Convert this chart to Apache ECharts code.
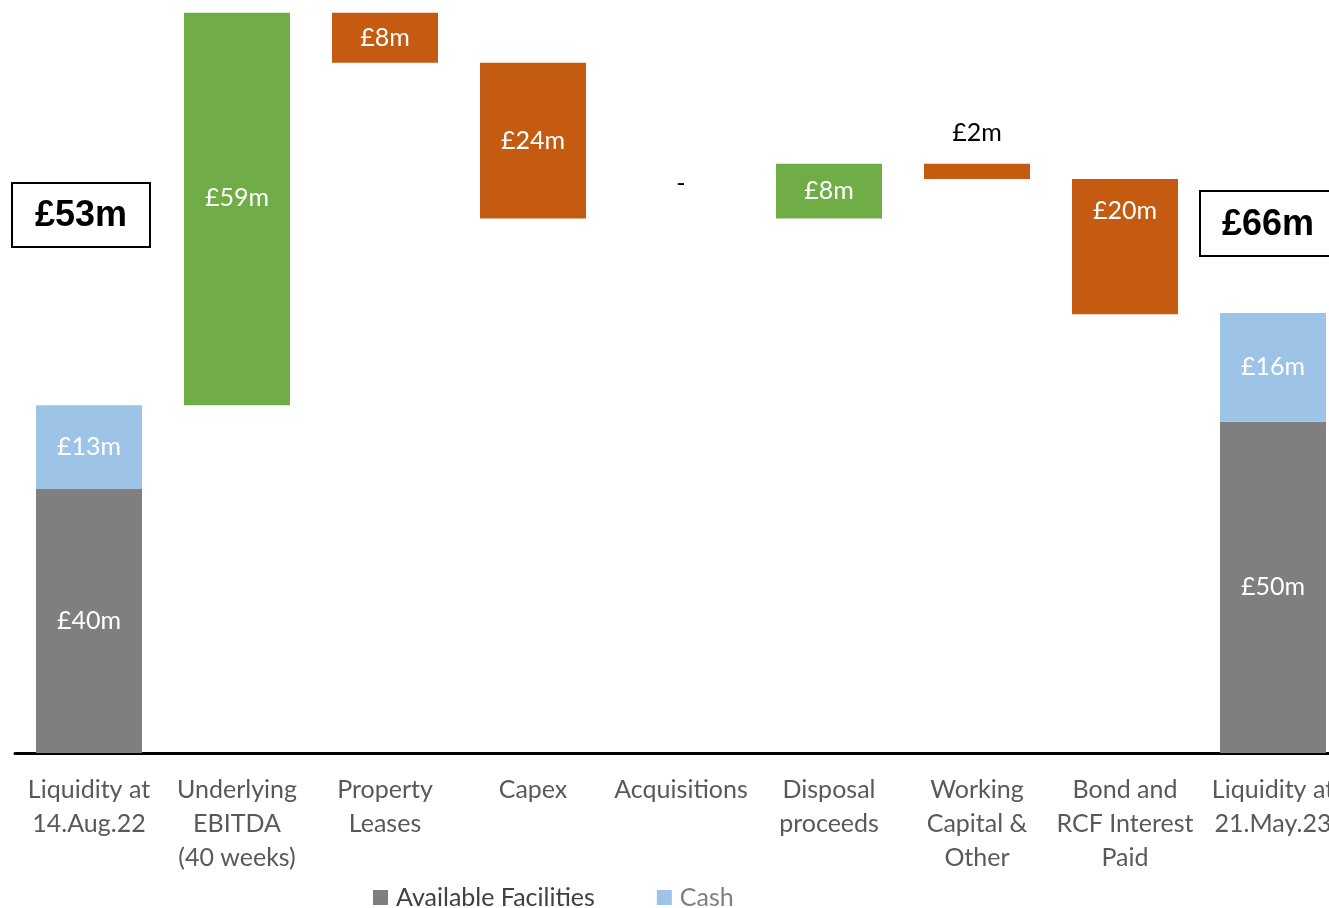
<!DOCTYPE html>
<html>
<head>
<meta charset="utf-8">
<script src="https://cdn.jsdelivr.net/npm/echarts@6/dist/echarts.min.js"></script>
<style>
  html, body { margin: 0; padding: 0; background: #fff; overflow: hidden; }
  #chart { width: 1347px; height: 908px; }
</style>
</head>
<body>
<div id="chart"></div>
<script>
// categories on the x axis
const categories = [
  'Liquidity at\n14.Aug.22',
  'Underlying\nEBITDA\n(40 weeks)',
  'Property\nLeases',
  'Capex',
  'Acquisitions',
  'Disposal\nproceeds',
  'Working\nCapital &\nOther',
  'Bond and\nRCF Interest\nPaid',
  'Liquidity at\n21.May.23'
]

// opening / closing liquidity (£m)
const facilities = [40, null, null, null, null, null, null, null, 50.2]
const cash = [12.7, null, null, null, null, null, null, null, 16.5]
const facilityLabels = ['£40m', '', '', '', '', '', '', '', '£50m']
const cashLabels = ['£13m', '', '', '', '', '', '', '', '£16m']

// movements in between (£m)
const changes = [null, 59.5, -7.6, -23.6, 0, 8.3, -2.3, -20.5, null]
const changeLabels = ['', '£59m', '£8m', '£24m', '-', '£8m', '£2m', '£20m', '']

// boxed totals
const openingTotal = '£53m'
const closingTotal = '£66m'

// work out the invisible base for the floating bars
const base = []
const ups = []
const downs = []
let running = 0
categories.forEach((c, i) => {
  if (changes[i] === null) {
    base.push(null)
    ups.push(null)
    downs.push(null)
    running = (facilities[i] || 0) + (cash[i] || 0)
    return
  }
  const v = changes[i]
  if (v > 0) {
    base.push(running)
    ups.push(v)
    downs.push(null)
    running += v
  } else {
    running += v
    base.push(running)
    ups.push(null)
    downs.push(-v)
  }
})

const FONT = 'Lato, "Open Sans", sans-serif'

const whiteLabel = {
  show: true,
  position: 'inside',
  color: '#fff',
  fontFamily: FONT,
  fontSize: 25
}

const chart = echarts.init(document.getElementById('chart'))

const option = {
  animation: false,
  grid: { left: 15, top: 12, right: 0, bottom: 155 },
  legend: {
    data: [
      { name: 'Available Facilities', textStyle: { color: '#404040' } },
      { name: 'Cash', textStyle: { color: '#7f7f7f' } }
    ],
    left: 373,
    top: 885,
    padding: 0,
    icon: 'rect',
    itemWidth: 15,
    itemHeight: 15,
    itemGap: 62,
    textStyle: { fontFamily: FONT, fontSize: 25, padding: [0, 0, 0, 3] }
  },
  xAxis: {
    type: 'category',
    data: categories,
    axisLine: { lineStyle: { color: '#000', width: 3 } },
    axisTick: { show: false },
    axisLabel: {
      interval: 0,
      margin: 20,
      color: '#595959',
      fontFamily: FONT,
      fontSize: 25,
      lineHeight: 34
    }
  },
  yAxis: {
    type: 'value',
    min: 0,
    max: 112.3,
    show: false,
    splitLine: { show: false }
  },
  series: [
    {
      name: 'base',
      type: 'bar',
      stack: 'total',
      barWidth: 106,
      silent: true,
      itemStyle: { color: 'transparent' },
      data: base
    },
    {
      name: 'Available Facilities',
      type: 'bar',
      stack: 'total',
      barWidth: 106,
      itemStyle: { color: '#7f7f7f' },
      label: { ...whiteLabel, formatter: p => facilityLabels[p.dataIndex] },
      data: facilities
    },
    {
      name: 'Cash',
      type: 'bar',
      stack: 'total',
      barWidth: 106,
      itemStyle: { color: '#9dc3e6' },
      label: { ...whiteLabel, formatter: p => cashLabels[p.dataIndex] },
      data: cash
    },
    {
      name: 'Increase',
      type: 'bar',
      stack: 'total',
      barWidth: 106,
      itemStyle: { color: '#70ad47' },
      label: { ...whiteLabel, formatter: p => changeLabels[p.dataIndex] },
      data: ups.map((v, i) => i === 1
        ? { value: v, label: { position: 'insideTop', distance: 173 } }
        : v)
    },
    {
      name: 'Decrease',
      type: 'bar',
      stack: 'total',
      barWidth: 106,
      itemStyle: { color: '#c55a11' },
      label: { ...whiteLabel, formatter: p => changeLabels[p.dataIndex] },
      data: downs.map((v, i) => {
        if (i === 4) return { value: v, label: { position: 'top', distance: 22, color: '#000' } }
        if (i === 6) return { value: v, label: { position: 'top', distance: 18, color: '#000' } }
        if (i === 7) return { value: v, label: { position: 'insideTop', distance: 19 } }
        return v
      })
    }
  ],
  graphic: [
    {
      type: 'group',
      left: 11,
      top: 182,
      children: [
        { type: 'rect', shape: { x: 0, y: 0, width: 138, height: 64 },
          style: { fill: '#fff', stroke: '#000', lineWidth: 2 } },
        { type: 'text', x: 69, y: 33,
          style: { text: openingTotal, fill: '#000', font: 'bold 36px "Liberation Sans", Arial, sans-serif',
            textAlign: 'center', textVerticalAlign: 'middle' } }
      ]
    },
    {
      type: 'group',
      left: 1199,
      top: 190,
      children: [
        { type: 'rect', shape: { x: 0, y: 0, width: 134, height: 65 },
          style: { fill: '#fff', stroke: '#000', lineWidth: 2 } },
        { type: 'text', x: 68, y: 34,
          style: { text: closingTotal, fill: '#000', font: 'bold 36px "Liberation Sans", Arial, sans-serif',
            textAlign: 'center', textVerticalAlign: 'middle' } }
      ]
    }
  ]
}

chart.setOption(option)

window.addEventListener('resize', () => {
  chart.resize()
})
</script>
</body>
</html>
